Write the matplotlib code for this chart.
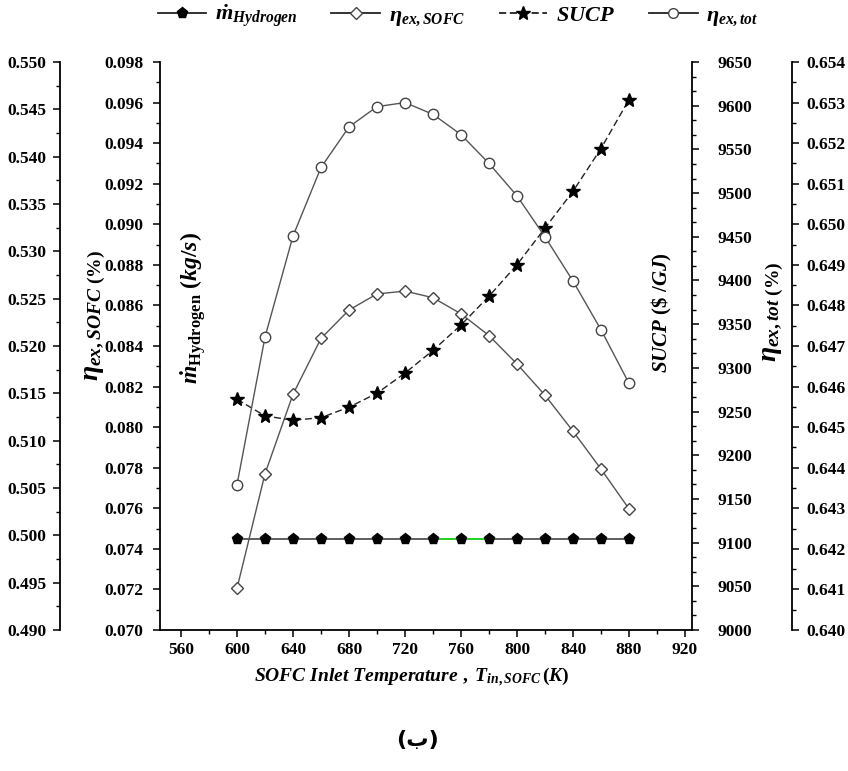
import matplotlib
matplotlib.use('Agg')
import matplotlib.pyplot as plt
from matplotlib.ticker import MultipleLocator, FormatStrFormatter

# SOFC inlet temperature (K)
temps = [600, 620, 640, 660, 680, 700, 720, 740, 760, 780, 800, 820, 840, 860, 880]

# hydrogen mass flow (kg/s)
m_hydrogen = [0.0745, 0.0745, 0.0745, 0.0745, 0.0745, 0.0745, 0.0745, 0.0745,
              0.0745, 0.0745, 0.0745, 0.0745, 0.0745, 0.0745, 0.0745]

# SOFC exergy efficiency
eta_sofc = [0.4944, 0.5065, 0.5149, 0.5208, 0.5238, 0.5255, 0.5258, 0.5251,
            0.5234, 0.5211, 0.5181, 0.5148, 0.5110, 0.5070, 0.5028]

# specific unit cost of product ($/GJ)
sucp = [9264, 9245, 9240, 9243, 9255, 9271, 9294, 9320,
        9349, 9382, 9418, 9460, 9502, 9551, 9607]

# total exergy efficiency
eta_tot = [0.64358, 0.64722, 0.64971, 0.65140, 0.65240, 0.65290, 0.65300, 0.65271,
           0.65221, 0.65150, 0.65070, 0.64969, 0.64860, 0.64740, 0.64608]

plt.rcParams['font.family'] = ['Liberation Serif', 'DejaVu Serif']
plt.rcParams['font.weight'] = 'bold'
plt.rcParams['mathtext.fontset'] = 'custom'
plt.rcParams['mathtext.rm'] = 'Liberation Serif:bold'
plt.rcParams['mathtext.it'] = 'Liberation Serif:italic:bold'
plt.rcParams['mathtext.bf'] = 'Liberation Serif:bold'

W, H = 848, 771
fig = plt.figure(figsize=(W / 100, H / 100), dpi=100)
L, R, T, B = 160, 692, 62, 630
ax = fig.add_axes([L / W, 1 - B / H, (R - L) / W, (B - T) / H])

ax_sofc = ax.twinx()
ax_sucp = ax.twinx()
ax_tot = ax.twinx()

line_col = '#555555'
edge_col = '#444444'


def style_ticks(a, pad):
    a.tick_params(axis='y', which='major', direction='out', length=5, width=1.1,
                  labelsize=12.5, pad=pad)
    a.tick_params(axis='y', which='minor', direction='out', length=3, width=1)
    for lab in a.get_yticklabels():
        lab.set_fontweight('bold')


# main axis: hydrogen mass flow
ax.plot(temps, m_hydrogen, color='#333333', lw=1.1, zorder=2)
ax.plot(temps[7:10], m_hydrogen[7:10], color='#22dd22', lw=1.3, zorder=3)
ax.plot(temps, m_hydrogen, ls='none', marker='p', ms=8, mfc='black', mec='black', zorder=4)
ax.set_xlim(545, 925)
ax.set_ylim(0.070, 0.098)
ax.xaxis.set_major_locator(MultipleLocator(40))
ax.xaxis.set_minor_locator(MultipleLocator(20))
ax.yaxis.set_major_locator(MultipleLocator(0.002))
ax.yaxis.set_minor_locator(MultipleLocator(0.001))
ax.yaxis.set_major_formatter(FormatStrFormatter('%.3f'))
ax.tick_params(axis='x', which='major', direction='out', length=5, width=1.1, labelsize=12.5, pad=4)
ax.tick_params(axis='x', which='minor', direction='out', length=3, width=1)
style_ticks(ax, 7)
for sp in ['top', 'right']:
    ax.spines[sp].set_visible(False)
for sp in ['left', 'bottom']:
    ax.spines[sp].set_linewidth(1.3)

# leftmost axis: SOFC exergy efficiency
ax_sofc.plot(temps, eta_sofc, color=line_col, lw=1.0, marker='D', ms=6.5,
             mfc='white', mec=edge_col, mew=1.0, zorder=3)
ax_sofc.set_ylim(0.490, 0.550)
ax_sofc.yaxis.set_ticks_position('left')
ax_sofc.yaxis.set_label_position('left')
ax_sofc.spines['left'].set_position(('axes', (60 - L) / (R - L)))
ax_sofc.spines['left'].set_visible(True)
ax_sofc.spines['left'].set_linewidth(1.3)
for sp in ['top', 'right', 'bottom']:
    ax_sofc.spines[sp].set_visible(False)
ax_sofc.yaxis.set_major_locator(MultipleLocator(0.005))
ax_sofc.yaxis.set_minor_locator(MultipleLocator(0.0025))
ax_sofc.yaxis.set_major_formatter(FormatStrFormatter('%.3f'))
style_ticks(ax_sofc, 5)

# right axis: SUCP
ax_sucp.plot(temps, sucp, color='#222222', lw=1.0, ls=(0, (5, 2.5)), marker='*', ms=10.5,
             mfc='black', mec='black', zorder=5)
ax_sucp.set_ylim(9000, 9650)
ax_sucp.yaxis.set_major_locator(MultipleLocator(50))
ax_sucp.yaxis.set_minor_locator(MultipleLocator(50 / 3))
ax_sucp.yaxis.set_major_formatter(FormatStrFormatter('%d'))
for sp in ['top', 'left', 'bottom']:
    ax_sucp.spines[sp].set_visible(False)
ax_sucp.spines['right'].set_linewidth(1.3)
style_ticks(ax_sucp, 13)

# far right axis: total exergy efficiency
ax_tot.plot(temps, eta_tot, color=line_col, lw=1.0, marker='o', ms=7.5,
            mfc='white', mec=edge_col, mew=1.0, zorder=3)
ax_tot.set_ylim(0.640, 0.654)
ax_tot.spines['right'].set_position(('axes', (792 - L) / (R - L)))
ax_tot.spines['right'].set_linewidth(1.3)
for sp in ['top', 'left', 'bottom']:
    ax_tot.spines[sp].set_visible(False)
ax_tot.yaxis.set_major_locator(MultipleLocator(0.001))
ax_tot.yaxis.set_minor_locator(MultipleLocator(0.0005))
ax_tot.yaxis.set_major_formatter(FormatStrFormatter('%.3f'))
style_ticks(ax_tot, 5)

for lab in ax.get_xticklabels():
    lab.set_fontweight('bold')

# axis titles
fig.text(95 / W, 1 - 316 / H, r'$\eta_{ex,SOFC\ (\%)}$', rotation=90,
         ha='center', va='center', fontsize=20)
fig.text(193 / W, 1 - 308 / H, r'$\dot{m}_{\mathrm{Hydrogen}}$ $\mathit{(kg/s)}$', rotation=90,
         ha='center', va='center', fontsize=17)
fig.text(662 / W, 1 - 313 / H, r'$SUCP\ (\$\ /GJ)$', rotation=90,
         ha='center', va='center', fontsize=15)
fig.text(773 / W, 1 - 312 / H, r'$\eta_{ex,tot\ (\%)}$', rotation=90,
         ha='center', va='center', fontsize=20)
fig.text(412 / W, 1 - 677 / H, r'$SOFC\ Inlet\ Temperature\ ,\ T_{in,SOFC}\,(K)$',
         ha='center', va='center', fontsize=14)
fig.text(418 / W, 1 - 740 / H, '(ب)', ha='center', va='center', fontsize=16,
         family='DejaVu Sans', fontweight='bold')

# legend
handles = [
    plt.Line2D([], [], color='#222222', lw=1.3, marker='p', ms=8, mfc='black', mec='black'),
    plt.Line2D([], [], color='#222222', lw=1.3, marker='D', ms=6.5, mfc='white', mec=edge_col),
    plt.Line2D([], [], color='#222222', lw=1.3, ls=(0, (4, 2)), marker='*', ms=10, mfc='black', mec='black'),
    plt.Line2D([], [], color='#222222', lw=1.3, marker='o', ms=7, mfc='white', mec=edge_col),
]
labels = [r'$\dot{m}_{Hydrogen}$', r'$\eta_{ex,SOFC}$', r'$SUCP$', r'$\eta_{ex,tot}$']
fig.legend(handles, labels, loc='center', bbox_to_anchor=(458 / W, 1 - 16 / H), ncol=4,
           frameon=False, fontsize=16, handlelength=2.2, columnspacing=1.5, handletextpad=0.4)

fig.savefig('out.png', dpi=100)
